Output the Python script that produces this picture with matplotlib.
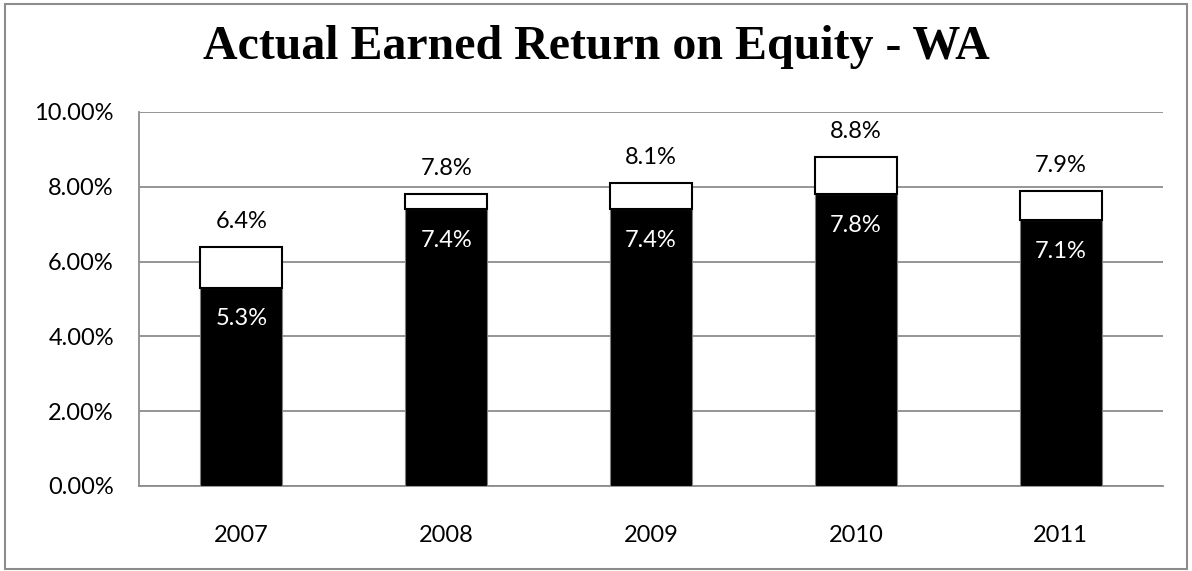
import matplotlib
matplotlib.use("Agg")
import matplotlib.pyplot as plt
from matplotlib.patches import Rectangle
from matplotlib.ticker import FuncFormatter

years = ["2007", "2008", "2009", "2010", "2011"]
actual_roe = [5.3, 7.4, 7.4, 7.8, 7.1]
upper_roe = [6.4, 7.8, 8.1, 8.8, 7.9]
y_ticks = [0, 2, 4, 6, 8, 10]

plt.rcParams['font.family'] = ['Lato', 'DejaVu Sans']

fig = plt.figure(figsize=(11.92, 5.71), dpi=100)
ax = fig.add_axes([0.1166, 0.1489, 0.8591, 0.655])

x = list(range(len(years)))
diff = [u - a for u, a in zip(upper_roe, actual_roe)]
ax.bar(x, actual_roe, width=0.4, color='black', edgecolor='#808080', linewidth=0.8, zorder=3)
ax.bar(x, diff, bottom=actual_roe, width=0.4, color='white', edgecolor='black', linewidth=1.5, zorder=3)

for xi, a, u in zip(x, actual_roe, upper_roe):
    ax.text(xi, u + 0.68, f"{u:.1f}%", ha='center', va='center', fontsize=17, color='black')
    ax.text(xi, a - 0.83, f"{a:.1f}%", ha='center', va='center', fontsize=17, color='white', zorder=4)

ax.set_xlim(-0.5, len(years) - 0.5)
ax.set_ylim(0, 10)
ax.set_yticks(y_ticks)
ax.yaxis.set_major_formatter(FuncFormatter(lambda v, p: f"{v:.2f}%"))
ax.set_xticks(x)
ax.set_xticklabels(years)
ax.tick_params(axis='both', length=0, labelsize=17, colors='black')
ax.tick_params(axis='y', pad=18)
ax.tick_params(axis='x', pad=28)
ax.yaxis.grid(True, color='#8c8c8c', linewidth=1.3, zorder=0)
ax.set_axisbelow(True)
for s in ['top', 'right']:
    ax.spines[s].set_visible(False)
for s in ['left', 'bottom']:
    ax.spines[s].set_color('#8c8c8c')
    ax.spines[s].set_linewidth(1.3)

fig.text(0.5, 0.918, "Actual Earned Return on Equity - WA", ha='center', va='center',
         fontsize=34.5, fontweight='bold', family=['Liberation Serif', 'DejaVu Serif'])

fig.patches.append(Rectangle((0.004, 0.004), 0.992, 0.989, transform=fig.transFigure,
                             fill=False, edgecolor='#8c8c8c', linewidth=1.5))

fig.savefig("out.png", dpi=100)
